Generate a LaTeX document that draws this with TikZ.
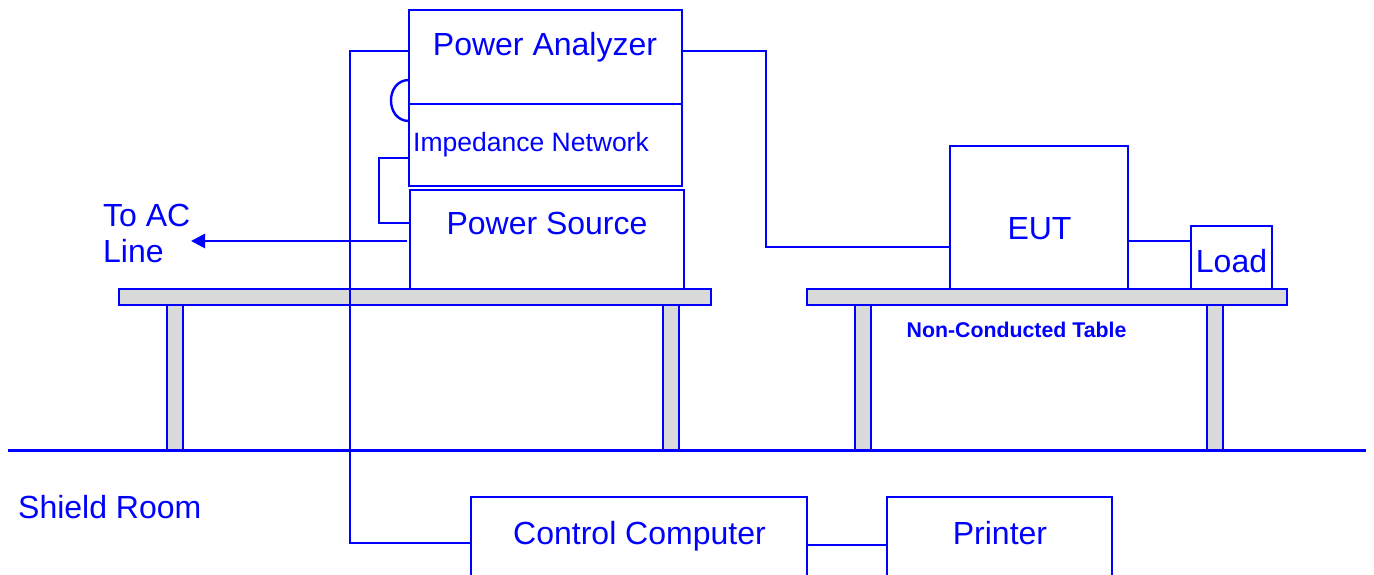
\documentclass[tikz,border=0pt]{standalone}
\usepackage{fontspec}
\setmainfont{Liberation Sans}
\usetikzlibrary{arrows.meta,calc}
\definecolor{lb}{RGB}{0,0,255}
\definecolor{tg}{RGB}{217,217,217}
\begin{document}
\begin{tikzpicture}[x=1pt,y=-1pt,
 box/.style={draw=lb, line width=2.6pt, inner sep=0pt, outer sep=0pt, anchor=north west, fill=white},
 wire/.style={draw=lb, line width=2.8pt},
 tbl/.style={draw=lb, fill=tg, line width=2.4pt},
 lbl/.style={text=lb, font=\fontsize{32}{36}\selectfont, anchor=base, inner sep=0pt},
 lblw/.style={lbl, anchor=base west},
]
\useasboundingbox (0,0) rectangle (1374,575);
\clip (0,0) rectangle (1374,575);

% floor
\coordinate (fl) at (8,450);
\coordinate (fr) at (1366,450);
\draw[wire, line width=3pt] (fl) -- (fr);

% tables
\draw[tbl] (167,305) rectangle (183,450);
\draw[tbl] (663,305) rectangle (679,450);
\draw[tbl] (119,289) rectangle (711,305);
\draw[tbl] (855,305) rectangle (871,450);
\draw[tbl] (1207,305) rectangle (1223,450);
\draw[tbl] (807,289) rectangle (1287,305);

% boxes
\node[box, minimum width=273pt, minimum height=94pt] (pa) at (409,10) {};
\node[box, minimum width=273pt, minimum height=82pt] (in) at (409,104) {};
\node[box, minimum width=274pt, minimum height=99pt] (ps) at (410,190) {};
\node[box, minimum width=178pt, minimum height=143pt] (eut) at (950,146) {};
\node[box, minimum width=81pt, minimum height=63pt] (load) at (1191,226) {};
\node[box, minimum width=336pt, minimum height=100pt] (cc) at (471,497) {};
\node[box, minimum width=225pt, minimum height=100pt] (pr) at (887,497) {};

% connector coordinates
\coordinate (a1) at (350,51);
\coordinate (a2) at (350,543);
\coordinate (b1) at (766,51);
\coordinate (b2) at (766,247);
\coordinate (c1) at (379,158);
\coordinate (c2) at (379,223);
\coordinate (d1) at (1150,241);
\coordinate (e1) at (840,545);
\coordinate (f1) at (300,241);
\coordinate (toac) at (191,241);
\coordinate (g1) at (409,80);
\coordinate (g2) at (409,121);

% connectors
\draw[wire] (pa.west |- a1) -- (a1) -- (a2) -- (cc.west |- a2);
\draw[wire] (pa.east |- b1) -- (b1) -- (b2) -- (eut.west |- b2);
\draw[wire] (eut.east |- d1) -- (load.west |- d1);
\draw[wire] (cc.east |- e1) -- (pr.west |- e1);
\draw[wire] (in.west |- c1) -- (c1) -- (c2) -- (ps.west |- c2);
\draw[wire, -{Triangle[length=14pt,width=14pt]}] ($(ps.west |- f1)+(-3,0)$) -- (toac);
\draw[wire, line width=2.4pt] (pa.west |- g1) .. controls (385,80) and (385,121) .. (in.west |- g2);

% labels
\node[lbl] (tpa) at (545,56) {Power Analyzer};
\node[lblw, font=\fontsize{26.5}{30}\selectfont] (tin) at (413,152) {Impedance Network};
\node[lbl] (tps) at (547,234) {Power Source};
\node[lbl] (teut) at (1039.5,239) {EUT};
\node[lbl] (tload) at (1231.5,272) {Load};
\node[lbl] (tcc) at (639.5,544) {Control Computer};
\node[lbl] (tpr) at (1000,544) {Printer};
\node[lblw] (tac1) at (103,226) {To AC};
\node[lblw] (tac2) at (103,262) {Line};
\node[lblw] (tsr) at (18,518) {Shield Room};
\node[lbl, font=\fontsize{21.3}{24}\selectfont\bfseries] (tnct) at (1016.5,337) {Non-Conducted Table};
\end{tikzpicture}
\end{document}
